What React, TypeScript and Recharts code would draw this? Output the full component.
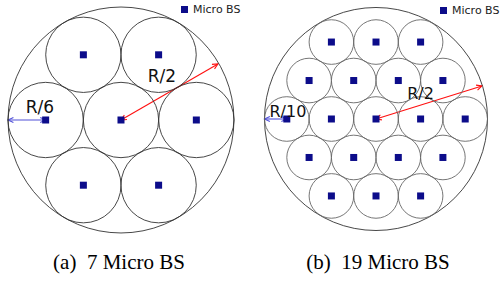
import React from "react";
import {
    ScatterChart,
    Scatter,
    XAxis,
    YAxis,
    ReferenceLine,
    Legend,
} from "recharts";

// all positions are in units of the macro cell radius R, macro BS at (0, 0)
const sevenBsX = [0, -0.667, 0.667, -0.333, 0.333, -0.333, 0.333];
const sevenBsY = [0, 0, 0, 0.577, 0.577, -0.577, -0.577];
const sevenCellRadius = 1 / 3;

const nineteenBsX = [
    -0.4, 0, 0.4,
    -0.6, -0.2, 0.2, 0.6,
    -0.8, -0.4, 0, 0.4, 0.8,
    -0.6, -0.2, 0.2, 0.6,
    -0.4, 0, 0.4,
];
const nineteenBsY = [
    0.69, 0.69, 0.69,
    0.345, 0.345, 0.345, 0.345,
    0, 0, 0, 0, 0,
    -0.345, -0.345, -0.345, -0.345,
    -0.69, -0.69, -0.69,
];
const nineteenCellRadius = 1 / 5;

// arrows: [from, to]
const sevenRedArrow = [{ x: 0, y: 0 }, { x: 0.858, y: 0.496 }];
const sevenBlueArrow = [{ x: -1, y: 0 }, { x: -0.667, y: 0 }];
const nineteenRedArrow = [{ x: 0, y: 0 }, { x: 0.95, y: 0.296 }];
const nineteenBlueArrow = [{ x: -1, y: 0 }, { x: -0.8, y: 0 }];

const sevenLabels = [
    { x: 0.363, y: 0.389, text: "R/2" },
    { x: -0.717, y: 0.115, text: "R/6" },
];
const nineteenLabels = [
    { x: 0.4, y: 0.233, text: "R/2" },
    { x: -0.79, y: 0.063, text: "R/10" },
];

const captions = ["(a)  7 Micro BS", "(b)  19 Micro BS"];

const BS_COLOR = "#0c0c8a";
const CHART_W = 250;
const CHART_H = 240;

type Pt = { x: number; y: number };

const arrowShape = (color: string) => (p: any) => {
    const { x1, y1, x2, y2 } = p;
    const a = Math.atan2(y2 - y1, x2 - x1);
    const h = 6;
    const w = 0.45;
    const head = (x: number, y: number, ang: number) =>
        `M${x - h * Math.cos(ang - w)},${y - h * Math.sin(ang - w)}L${x},${y}L${
            x - h * Math.cos(ang + w)
        },${y - h * Math.sin(ang + w)}`;
    return (
        <g>
            <line x1={x1} y1={y1} x2={x2} y2={y2} stroke={color} strokeWidth={1.1} />
            <path
                d={head(x2, y2, a) + head(x1, y1, a + Math.PI)}
                stroke={color}
                strokeWidth={1.1}
                fill="none"
            />
        </g>
    );
};

type PanelProps = {
    xDomain: [number, number];
    yDomain: [number, number];
    bsX: number[];
    bsY: number[];
    cellRadius: number;
    redArrow: Pt[];
    blueArrow: Pt[];
    labels: { x: number; y: number; text: string }[];
    labelSize: number;
    cellStroke: string;
    legendLeft: number;
    legendTop: number;
};

function Panel(props: PanelProps) {
    const k = CHART_W / (props.xDomain[1] - props.xDomain[0]);
    const bs = props.bsX.map((x, i) => ({ x, y: props.bsY[i] }));

    return (
        <ScatterChart
            width={CHART_W}
            height={CHART_H}
            margin={{ top: 0, right: 0, bottom: 0, left: 0 }}
        >
            <XAxis type="number" dataKey="x" hide domain={props.xDomain} allowDataOverflow />
            <YAxis type="number" dataKey="y" hide domain={props.yDomain} allowDataOverflow />
            <Scatter
                data={[{ x: 0, y: 0 }]}
                legendType="none"
                isAnimationActive={false}
                shape={(p: any) => (
                    <circle cx={p.cx} cy={p.cy} r={k} fill="none" stroke="#333" strokeWidth={0.9} />
                )}
            />
            <Scatter
                data={bs}
                legendType="none"
                isAnimationActive={false}
                shape={(p: any) => (
                    <circle
                        cx={p.cx}
                        cy={p.cy}
                        r={props.cellRadius * k}
                        fill="none"
                        stroke={props.cellStroke}
                        strokeWidth={0.9}
                    />
                )}
            />
            <Scatter
                name="Micro BS"
                data={bs}
                fill={BS_COLOR}
                isAnimationActive={false}
                shape={(p: any) => (
                    <rect x={p.cx - 3.5} y={p.cy - 3.5} width={7} height={7} fill={BS_COLOR} />
                )}
            />
            <ReferenceLine
                segment={props.redArrow}
                ifOverflow="visible"
                shape={arrowShape("#ff1010")}
            />
            <ReferenceLine
                segment={props.blueArrow}
                ifOverflow="visible"
                shape={arrowShape("#5050d8")}
            />
            <Scatter
                data={props.labels}
                legendType="none"
                isAnimationActive={false}
                shape={(p: any) => (
                    <text
                        x={p.cx}
                        y={p.cy}
                        textAnchor="middle"
                        dominantBaseline="central"
                        fontFamily="DejaVu Sans"
                        fontSize={props.labelSize}
                        fill="#111"
                    >
                        {p.payload.text}
                    </text>
                )}
            />
            <Legend
                layout="horizontal"
                verticalAlign="middle"
                align="center"
                wrapperStyle={{ left: props.legendLeft, top: props.legendTop, width: "auto" }}
                content={({ payload }: any) => (
                    <div
                        style={{
                            display: "flex",
                            alignItems: "center",
                            fontFamily: "DejaVu Sans",
                            fontSize: 11,
                            whiteSpace: "nowrap",
                            color: "#222",
                        }}
                    >
                        {(payload || []).map((e: any) => (
                            <React.Fragment key={e.value}>
                                <span
                                    style={{
                                        display: "inline-block",
                                        width: 7,
                                        height: 7,
                                        background: e.color,
                                        marginRight: 5,
                                    }}
                                />
                                {e.value}
                            </React.Fragment>
                        ))}
                    </div>
                )}
            />
        </ScatterChart>
    );
}

export default function App() {
    return (
        <div style={{ position: "relative", width: 500, height: 282, background: "#fff" }}>
            <style>{"body{margin:0}"}</style>
            <div style={{ display: "flex" }}>
                <Panel
                    xDomain={[-1.071, 1.142]}
                    yDomain={[-1.062, 1.062]}
                    bsX={sevenBsX}
                    bsY={sevenBsY}
                    cellRadius={sevenCellRadius}
                    redArrow={sevenRedArrow}
                    blueArrow={sevenBlueArrow}
                    labels={sevenLabels}
                    labelSize={17}
                    cellStroke="#333"
                    legendLeft={181}
                    legendTop={3}
                />
                <Panel
                    xDomain={[-1.13, 1.112]}
                    yDomain={[-1.085, 1.067]}
                    bsX={nineteenBsX}
                    bsY={nineteenBsY}
                    cellRadius={nineteenCellRadius}
                    redArrow={nineteenRedArrow}
                    blueArrow={nineteenBlueArrow}
                    labels={nineteenLabels}
                    labelSize={16}
                    cellStroke="#666"
                    legendLeft={190}
                    legendTop={4}
                />
            </div>
            {captions.map((c, i) => (
                <div
                    key={c}
                    style={{
                        position: "absolute",
                        top: 250,
                        left: i === 0 ? 0 : 253,
                        width: i === 0 ? 238 : 250,
                        textAlign: "center",
                        fontFamily: "'Liberation Serif', 'Times New Roman', serif",
                        fontSize: 21,
                        whiteSpace: "pre",
                        color: "#000",
                    }}
                >
                    {c}
                </div>
            ))}
        </div>
    );
}
